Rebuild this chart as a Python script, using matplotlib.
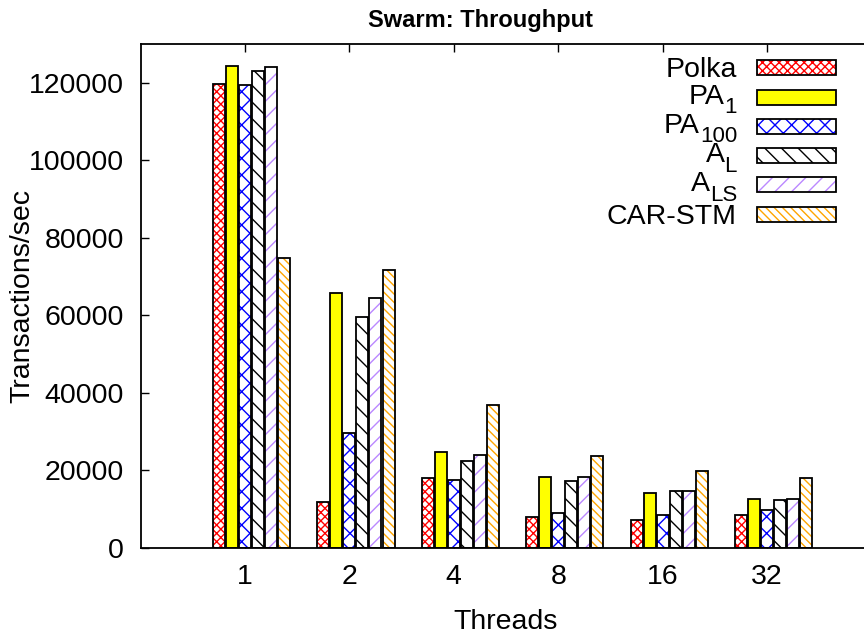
import numpy as np
import matplotlib
matplotlib.use('Agg')
import matplotlib.pyplot as plt
from matplotlib.patches import Rectangle

plt.rcParams['font.family'] = ['Liberation Sans', 'DejaVu Sans']
plt.rcParams['hatch.linewidth'] = 1.0

# data
threads = ['1', '2', '4', '8', '16', '32']
names = ['Polka', 'PA', 'PA', 'A', 'A', 'CAR-STM']
subs = ['', '1', '100', 'L', 'LS', '']
polka = [119700, 11900, 17900, 8000, 7200, 8500]
pa1 = [124500, 65800, 24800, 18300, 14200, 12500]
pa100 = [119600, 29500, 17600, 9000, 8400, 9700]
al = [123000, 59600, 22400, 17300, 14700, 12200]
als = [124200, 64600, 23900, 18300, 14600, 12700]
carstm = [74700, 71800, 36800, 23800, 19900, 18000]
values = [polka, pa1, pa100, al, als, carstm]

fills = ['white', 'yellow', 'white', 'white', 'white', 'white']
hatch_cols = ['red', 'yellow', 'blue', 'black', '#bb88ff', 'orange']
hatches = ['xxxx', None, 'xx', '\\\\', '//', '\\\\\\\\']

W, H = 864, 638
fig = plt.figure(figsize=(W / 100, H / 100), dpi=100)
# the right edge of the plot box runs past the picture, like the original
ax = fig.add_axes([140.5 / W, 1 - 547.7 / H, 731 / W, 503.4 / H])

x = np.arange(len(threads))
slot = 0.125
width = 0.115
for j, vals in enumerate(values):
    pos = x + (j - 2) * slot
    # hatch first (its colour comes from edgecolor), black outline on top
    ax.bar(pos, vals, width, color=fills[j], hatch=hatches[j],
           edgecolor=hatch_cols[j], linewidth=0, zorder=2)
    ax.bar(pos, vals, width, color='none', edgecolor='black',
           linewidth=1.3, zorder=3)

ax.set_xlim(-1, 6)
ax.set_ylim(0, 130000)
ax.set_xticks(x)
ax.set_xticklabels(threads)
ax.set_yticks(np.arange(0, 130000, 20000))
ax.tick_params(direction='in', length=6, width=1, top=True, right=True,
               labelsize=20.5, pad=12)
for s in ax.spines.values():
    s.set_linewidth(1.3)

ax.set_xlabel('Threads', fontsize=20.5, va='center')
ax.xaxis.set_label_coords(0.5, (547.7 - 622) / 503.4)
ax.set_ylabel('Transactions/sec', fontsize=20.5, va='center')
ax.yaxis.set_label_coords((22 - 140.5) / 731, 0.5)

fig.text(481 / W, 1 - 20 / H, 'Swarm: Throughput', ha='center',
         va='center', fontsize=17, fontweight='bold')

# legend, gnuplot style: right aligned text, key box on the right
renderer = fig.canvas.get_renderer()
for j in range(len(names)):
    cy = 67.7 + j * 29.3
    for k in range(2):
        r = Rectangle((757 / W, 1 - (cy + 7.5) / H), 79 / W, 15 / H,
                      transform=fig.transFigure,
                      facecolor=fills[j] if k == 0 else 'none',
                      hatch=hatches[j] if k == 0 else None,
                      edgecolor=hatch_cols[j] if k == 0 else 'black',
                      linewidth=0 if k == 0 else 1.3)
        fig.add_artist(r)
    if subs[j]:
        base = cy + 6.5
        ts = fig.text(737 / W, 1 - (base + 9.5) / H, subs[j], ha='right',
                      va='baseline', fontsize=16)
        w = ts.get_window_extent(renderer).width
        fig.text((737 - w) / W, 1 - base / H, names[j], ha='right',
                 va='baseline', fontsize=20.5)
    else:
        fig.text(737 / W, 1 - (cy + 9.3) / H, names[j], ha='right',
                 va='baseline', fontsize=20.5)

fig.savefig('out.png', dpi=100)
